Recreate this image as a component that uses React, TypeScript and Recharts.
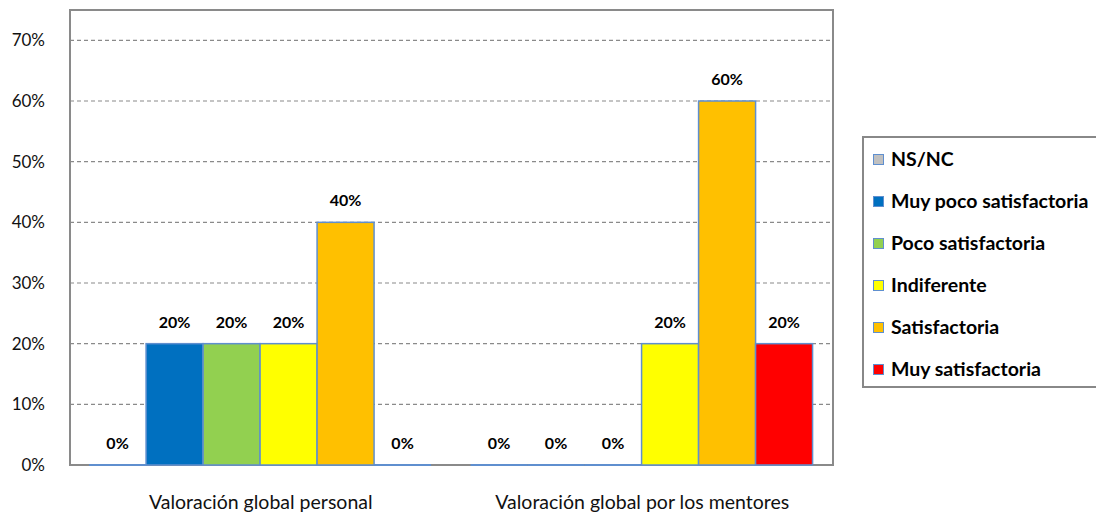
import React from 'react';
import { BarChart, Bar, XAxis, YAxis, CartesianGrid, LabelList, ReferenceArea } from 'recharts';

const categories = ['Valoración global personal', 'Valoración global por los mentores'];
const seriesNames = ['NS/NC', 'Muy poco satisfactoria', 'Poco satisfactoria', 'Indiferente', 'Satisfactoria', 'Muy satisfactoria'];
const nsnc = [0, 0];
const muyPoco = [0.2, 0];
const poco = [0.2, 0];
const indiferente = [0.2, 0.2];
const satisfactoria = [0.4, 0.6];
const muySatisfactoria = [0, 0.2];
const yTicks = [0, 0.1, 0.2, 0.3, 0.4, 0.5, 0.6, 0.7];
const colors = ['#C0C0C0', '#0070C0', '#92D050', '#FFFF00', '#FFC000', '#FF0000'];

const seriesValues = [nsnc, muyPoco, poco, indiferente, satisfactoria, muySatisfactoria];
const keys = ['s0', 's1', 's2', 's3', 's4', 's5'];
const data = categories.map((c, i) => {
  const row: any = { name: c };
  keys.forEach((k, j) => { row[k] = seriesValues[j][i]; });
  return row;
});

const FONT = 'Lato, "Open Sans", sans-serif';
const STROKE = '#5F8FCF';
const pct = (v: any) => `${Math.round(Number(v) * 100)}%`;

const BarShape = (props: any) => {
  const { x, y, width, height, fill } = props;
  if (!height || Math.abs(height) < 0.5) {
    return <line x1={x} x2={x + width} y1={y} y2={y} stroke={STROKE} strokeWidth={2} />;
  }
  return <rect x={x} y={y} width={width} height={height} fill={fill} stroke={STROKE} strokeWidth={1.5} />;
};

const ChartLegend = () => (
  <div style={{ position: 'absolute', left: 862, top: 136, width: 250, height: 252, border: '2px solid #888', boxSizing: 'border-box', fontFamily: FONT, overflow: 'visible' }}>
    {seriesNames.map((n, i) => (
      <div key={n} style={{ height: 42, display: 'flex', alignItems: 'center', paddingLeft: 9 }}>
        <span style={{ display: 'inline-block', width: 9, height: 9, background: colors[i], border: `1.5px solid ${STROKE}`, marginRight: 7, flex: 'none' }} />
        <span style={{ fontWeight: 700, fontSize: 19.5, color: '#000', whiteSpace: 'nowrap', lineHeight: 1 }}>{n}</span>
      </div>
    ))}
  </div>
);

export default function App() {
  return (
    <div style={{ position: 'absolute', left: 0, top: 0, width: 1096, height: 515, background: '#fff', overflow: 'hidden' }}>
      <BarChart width={1096} height={515} data={data} margin={{ top: 10, right: 263, bottom: 0, left: 0 }} barCategoryGap="5%" barGap={0}>
        <CartesianGrid vertical={false} stroke="#8a8a8a" strokeDasharray="4 3" strokeWidth={1.2} />
        <XAxis dataKey="name" height={50} tickLine={false} axisLine={false} tickSize={0} tickMargin={30}
          tick={{ fontFamily: FONT, fontSize: 19.5, fill: '#111' }} />
        <YAxis domain={[0, 0.75]} ticks={yTicks} width={70} tickLine={false} axisLine={false} tickSize={0} tickMargin={25}
          tickFormatter={pct} tick={{ fontFamily: FONT, fontSize: 17, fill: '#111' }} />
        {keys.map((k, j) => (
          <Bar key={k} dataKey={k} name={seriesNames[j]} fill={colors[j]} shape={BarShape} isAnimationActive={false}>
            <LabelList dataKey={k} position="top" offset={16} formatter={pct}
              style={{ fontFamily: FONT, fontSize: 16, fontWeight: 700, fill: '#000' }} />
          </Bar>
        ))}
        <ReferenceArea y1={0} y2={0.75} fill="none" stroke="#8a8a8a" strokeWidth={2} ifOverflow="visible" />
      </BarChart>
      <ChartLegend />
    </div>
  );
}
